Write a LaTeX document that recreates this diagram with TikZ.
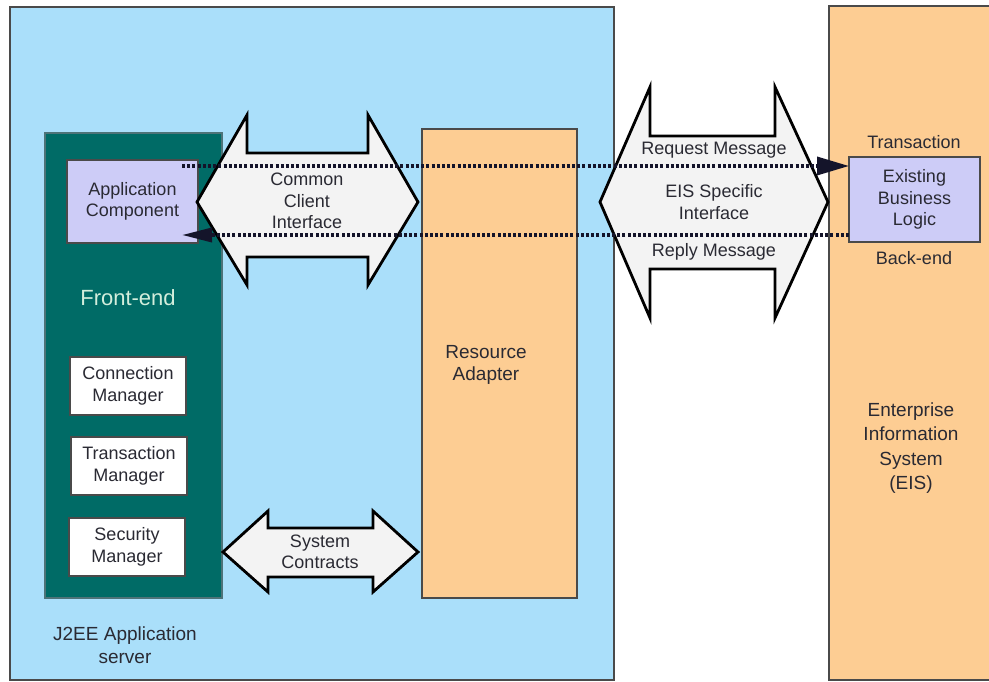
\documentclass[tikz,border=0pt]{standalone}
\usepackage{fontspec}
\setmainfont{Liberation Sans}
\usetikzlibrary{arrows.meta}
\definecolor{appblue}{HTML}{AADFFA}
\definecolor{eisor}{HTML}{FDCD93}
\definecolor{tealbg}{HTML}{006B66}
\definecolor{tealline}{HTML}{4E7378}
\definecolor{lav}{HTML}{CDCCF7}
\definecolor{arrowfill}{HTML}{F3F3F3}
\definecolor{boxline}{HTML}{4A4A4A}
\definecolor{txt}{HTML}{2A2A33}
\definecolor{fetxt}{HTML}{D3EEDC}
\definecolor{dotc}{HTML}{14142A}
\begin{document}
\begin{tikzpicture}[x=1pt,y=-1pt,
  box/.style={draw=boxline, line width=1.8pt, inner sep=0pt, outer sep=0pt, anchor=north west},
  lbl/.style={font=\fontsize{18}{21.5}\selectfont, align=center, text=txt},
  bigarrow/.style={draw=black, line width=2.8pt, fill=arrowfill, line join=miter},
  msg/.style={draw=dotc, line width=3.6pt, dash pattern=on 3pt off 2.2pt}]
\useasboundingbox (0,0) rectangle (989,682);
% containers
\node[box, fill=appblue, minimum width=604pt, minimum height=673pt] (j2ee) at (10,7) {};
\node[box, fill=eisor, minimum width=172pt, minimum height=674pt] (eis) at (829,6) {};
\node[box, fill=tealbg, draw=tealline, minimum width=177pt, minimum height=465pt] (fe) at (45,133) {};
\node[box, fill=eisor, minimum width=155pt, minimum height=469pt] (ra) at (422,129) {};
% inner boxes
\node[box, fill=lav, minimum width=131pt, minimum height=83pt, lbl] (appc) at (67,160) {Application\\Component};
\node[box, fill=white, minimum width=116pt, minimum height=58pt, lbl] (cm) at (70,357) {Connection\\Manager};
\node[box, fill=white, minimum width=116pt, minimum height=58pt, lbl] (tm) at (71,437) {Transaction\\Manager};
\node[box, fill=white, minimum width=116pt, minimum height=58pt, lbl] (sm) at (69,518) {Security\\Manager};
\node[box, fill=lav, minimum width=131pt, minimum height=85pt, lbl] (ebl) at (849,157) {Existing\\Business\\Logic};
% big double arrows
\draw[bigarrow] (197,202) -- (247,115) -- (247,153) -- (368,153) -- (368,115) -- (418,202)
  -- (368,285) -- (368,257) -- (247,257) -- (247,285) -- cycle;
\draw[bigarrow] (600,202) -- (650,87) -- (650,136) -- (775,136) -- (775,87) -- (828,202)
  -- (775,318) -- (775,269) -- (650,269) -- (650,318) -- cycle;
\draw[bigarrow] (223,552) -- (268,511) -- (268,528) -- (373,528) -- (373,511) -- (418,552)
  -- (373,592) -- (373,577) -- (268,577) -- (268,592) -- cycle;
% labels
\node[lbl] (ccil) at (307,201) {Common\\Client\\Interface};
\node[lbl] (eisil) at (714,202) {EIS Specific\\Interface};
\node[lbl] (scl) at (320,552) {System\\Contracts};
\node[lbl] (reqm) at (714,150) {Request Message};
\node[lbl] (repm) at (714,252) {Reply Message};
\node[lbl] (trl) at (914,142) {Transaction};
\node[lbl] (bel) at (914,258) {Back-end};
\node[lbl, font=\fontsize{19}{22.5}\selectfont] (ral) at (486,365) {Resource\\Adapter};
\node[lbl, font=\fontsize{19}{24.5}\selectfont] (eisl) at (911,448) {Enterprise\\Information\\System\\(EIS)};
\node[lbl, text=fetxt, font=\fontsize{22}{26}\selectfont] (fel) at (128,298) {Front-end};
\node[lbl, font=\fontsize{19}{23}\selectfont] (j2eel) at (125,645) {J2EE Application\\server};
% message lines
\coordinate (reqs) at (182,166);
\coordinate (repe) at (182,235);
\draw[msg, -{Triangle[length=32pt,width=18pt]}] (reqs) -- (ebl.west |- reqs);
\draw[msg, -{Triangle[length=30pt,width=14pt]}] (ebl.west |- repe) -- (repe);
\end{tikzpicture}
\end{document}
